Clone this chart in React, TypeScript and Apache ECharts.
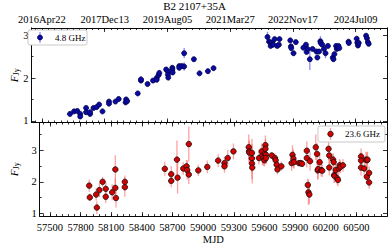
import React, { useEffect, useRef } from "react";
import * as echarts from "echarts";

// ---- data ----
const title = "B2 2107+35A";
const xMin = 57400;
const xMax = 60800;
const mjdTickValues = [57500, 57800, 58100, 58400, 58700, 59000, 59300, 59600, 59900, 60200, 60500];
const dateTickValues = [57500, 58100, 58700, 59300, 59900, 60500];
const dateTickLabels = ["2016Apr22", "2017Dec13", "2019Aug05", "2021Mar27", "2022Nov17", "2024Jul09"];
const yMajorTicks = [1, 2, 3];
const yMinorTicksTop = [1.5, 2.5];
const yMinorTicksBottom = [1.5, 2.5, 3.5];

const mjd48 = [
  57768, 57807, 57838, 57866, 57866, 57922, 57922, 57960, 57960, 57993, 58023, 58047, 58079, 58141, 58141,
  58203, 58234, 58300, 58305, 58315, 58416, 58447, 58447, 58510, 58562, 58597, 58597, 58616, 58622, 58688,
  58705, 58705, 58708, 58747, 58747, 58750, 58813, 58813, 58838, 58860, 58860, 58953, 59007, 59087, 59141,
  59657, 59672, 59687, 59687, 59703, 59712, 59725, 59750, 59766, 59772, 59875, 59881, 59884, 59906, 59928,
  60000, 60025, 60031, 60040, 60062, 60088, 60125, 60134, 60150, 60163, 60166, 60181, 60197, 60212, 60235,
  60282, 60288, 60297, 60313, 60320, 60328, 60336, 60344, 60432, 60435, 60510, 60516, 60522, 60530, 60600,
  60608, 60617, 60625,
];
const flux48 = [
  1.16, 1.22, 1.23, 1.16, 1.10, 1.30, 1.20, 1.16, 1.20, 1.30, 1.32, 1.38, 1.22, 1.45, 1.40,
  1.45, 1.51, 1.43, 1.50, 1.46, 1.64, 1.94, 1.97, 1.86, 1.94, 2.00, 1.96, 2.07, 2.12, 2.20,
  2.15, 2.08, 2.01, 2.24, 2.20, 2.13, 2.28, 2.24, 2.28, 2.58, 2.27, 2.44, 2.11, 2.16, 2.23,
  2.96, 2.85, 2.83, 2.75, 2.83, 2.78, 2.91, 2.75, 2.78, 2.91, 2.88, 2.74, 2.70, 2.58, 2.84,
  2.71, 2.78, 2.61, 2.68, 2.44, 2.68, 2.62, 2.48, 2.62, 2.86, 2.82, 2.78, 2.68, 2.58, 2.75,
  2.48, 2.44, 2.56, 2.75, 2.68, 2.72, 2.75, 2.70, 2.85, 2.82, 2.92, 2.83, 2.76, 2.82, 2.99,
  2.93, 2.84, 2.80,
];
const err48 = [
  0.02, 0.02, 0.02, 0.03, 0.03, 0.03, 0.03, 0.03, 0.02, 0.03, 0.03, 0.02, 0.03, 0.03, 0.03,
  0.02, 0.03, 0.03, 0.03, 0.03, 0.03, 0.03, 0.03, 0.02, 0.03, 0.03, 0.03, 0.03, 0.03, 0.03,
  0.04, 0.03, 0.03, 0.03, 0.03, 0.03, 0.03, 0.03, 0.03, 0.12, 0.10, 0.03, 0.04, 0.06, 0.03,
  0.12, 0.04, 0.04, 0.04, 0.04, 0.03, 0.04, 0.04, 0.04, 0.03, 0.05, 0.06, 0.06, 0.05, 0.03,
  0.04, 0.04, 0.06, 0.05, 0.25, 0.04, 0.04, 0.04, 0.05, 0.12, 0.05, 0.04, 0.05, 0.12, 0.04,
  0.03, 0.04, 0.04, 0.04, 0.04, 0.04, 0.04, 0.04, 0.06, 0.05, 0.05, 0.04, 0.04, 0.04, 0.03,
  0.04, 0.05, 0.04,
];

const mjd236 = [
  57885, 57891, 57953, 57960, 57985, 58016, 58047, 58047, 58110, 58141, 58141, 58147, 58234, 58234,
  58625, 58688, 58688, 58744, 58750, 58806, 58838, 58844, 58860, 58860, 58953, 59041, 59147, 59209,
  59209, 59241, 59297, 59447, 59450, 59453, 59478, 59478, 59478, 59481, 59547, 59573, 59580, 59590,
  59600, 59605, 59610, 59610, 59615, 59615, 59672, 59703, 59710, 59720, 59728, 59766, 59866, 59875,
  59884, 59890, 59938, 59955, 59969, 60015, 60015, 60025, 60031, 60040, 60047, 60103, 60115, 60122,
  60125, 60141, 60156, 60166, 60228, 60235, 60235, 60272, 60278, 60282, 60288, 60297, 60313, 60320,
  60328, 60336, 60344, 60369, 60546, 60546, 60546, 60578, 60594, 60603, 60609, 60603, 60625, 60625,
];
const flux236 = [
  1.88, 1.51, 1.60, 1.19, 1.74, 2.00, 1.78, 1.53, 1.67, 2.39, 1.81, 1.49, 2.00, 1.83,
  2.41, 2.24, 2.03, 2.70, 2.13, 2.42, 2.49, 2.37, 3.19, 2.23, 2.36, 2.47, 2.67, 2.59,
  2.49, 2.75, 2.96, 3.09, 2.96, 2.92, 2.91, 2.74, 2.58, 2.45, 2.75, 2.96, 2.83, 2.75,
  2.68, 2.88, 3.16, 3.04, 2.85, 2.75, 2.83, 2.75, 2.68, 2.54, 2.39, 2.49, 2.59, 2.85,
  2.73, 2.62, 2.59, 2.59, 2.57, 2.98, 2.75, 1.90, 1.67, 1.60, 2.65, 3.09, 2.88, 2.36,
  2.40, 2.62, 2.37, 2.35, 3.04, 2.83, 2.45, 2.70, 2.62, 2.21, 2.18, 2.37, 2.11, 2.06,
  2.42, 2.52, 2.47, 2.52, 2.80, 2.67, 2.45, 2.42, 2.70, 2.68, 2.70, 2.16, 2.28, 1.98,
];
const err236 = [
  0.19, 0.12, 0.20, 0.20, 0.22, 0.15, 0.22, 0.20, 0.25, 0.45, 0.30, 0.30, 0.20, 0.30,
  0.22, 0.25, 0.20, 0.60, 0.50, 0.20, 0.20, 0.30, 0.55, 0.30, 0.18, 0.20, 0.20, 0.20,
  0.20, 0.25, 0.25, 0.40, 0.35, 0.35, 0.45, 0.45, 0.50, 0.50, 0.20, 0.25, 0.30, 0.25,
  0.20, 0.20, 0.30, 0.30, 0.25, 0.20, 0.10, 0.15, 0.15, 0.15, 0.15, 0.15, 0.25, 0.30,
  0.30, 0.20, 0.10, 0.10, 0.10, 0.30, 0.30, 0.20, 0.40, 0.30, 0.30, 0.40, 0.35, 0.30,
  0.30, 0.30, 0.20, 0.20, 0.35, 0.30, 0.25, 0.20, 0.20, 0.25, 0.20, 0.20, 0.20, 0.20,
  0.20, 0.20, 0.20, 0.20, 0.25, 0.25, 0.25, 0.25, 0.25, 0.25, 0.25, 0.20, 0.20, 0.20,
];

const legendTop = "4.8 GHz";
const legendBottom = "23.6 GHz";

// ---- helpers ----
const FONT = "Liberation Serif";
const INK = "#000";
const TOP_MIN = 0.96;
const TOP_MAX = 3.17;
const BOT_MIN = 0.92;
const BOT_MAX = 3.87;

function stepValues(start: number, end: number, step: number) {
  const out: number[] = [];
  for (let v = start; v <= end + 1e-9; v += step) out.push(v);
  return out;
}
const minorX = stepValues(xMin + 40, xMax, 60);

function xAx(grid: number, position: string, ticks: number[], len: number, opts: any = {}) {
  return {
    type: "value",
    gridIndex: grid,
    position,
    min: xMin,
    max: xMax,
    splitLine: { show: false },
    axisLine: { show: opts.line !== false, onZero: false, lineStyle: { color: INK, width: 0.8 } },
    axisTick: { show: true, inside: true, length: len, customValues: ticks, lineStyle: { color: INK, width: 0.8 } },
    axisLabel: opts.label || { show: false },
    name: opts.name,
    nameLocation: "middle",
    nameGap: opts.nameGap,
    nameTextStyle: { fontFamily: FONT, fontSize: 10.5, color: INK },
  };
}

function yAx(grid: number, position: string, min: number, max: number, ticks: number[], len: number, opts: any = {}) {
  return {
    type: "value",
    gridIndex: grid,
    position,
    min,
    max,
    splitLine: { show: false },
    axisLine: { show: opts.line !== false, onZero: false, lineStyle: { color: INK, width: 0.8 } },
    axisTick: { show: true, inside: true, length: len, customValues: ticks, lineStyle: { color: INK, width: 0.8 } },
    axisLabel: opts.label || { show: false },
    name: opts.name,
    nameLocation: "middle",
    nameGap: opts.nameGap,
    nameRotate: 90,
    nameTextStyle: opts.nameTextStyle,
  };
}

function errSeries(x: number[], y: number[], e: number[], xi: number, yi: number, color: string) {
  return {
    type: "custom",
    xAxisIndex: xi,
    yAxisIndex: yi,
    silent: true,
    clip: true,
    z: 1,
    data: x.map((m, i) => [m, y[i] - e[i], y[i] + e[i]]),
    encode: { x: 0, y: [1, 2] },
    renderItem: (_p: any, api: any) => {
      const a = api.coord([api.value(0), api.value(1)]);
      const b = api.coord([api.value(0), api.value(2)]);
      return {
        type: "line",
        shape: { x1: a[0], y1: a[1], x2: b[0], y2: b[1] },
        style: { stroke: color, lineWidth: 1.3 },
      };
    },
  };
}

function ptSeries(x: number[], y: number[], xi: number, yi: number, fill: string, edge: string, size: number) {
  return {
    type: "scatter",
    xAxisIndex: xi,
    yAxisIndex: yi,
    z: 3,
    symbol: "circle",
    symbolSize: size,
    itemStyle: { color: fill, borderColor: edge, borderWidth: 0.8, opacity: 1 },
    data: x.map((m, i) => [m, y[i]]),
  };
}

// value labels of the upper panel, placed through the panel's own scales
function yTickLabelSeries(values: number[], xi: number, yi: number) {
  return {
    type: "custom",
    xAxisIndex: xi,
    yAxisIndex: yi,
    silent: true,
    clip: false,
    z: 5,
    data: values.map((v) => [xMin, v]),
    encode: { x: 0, y: 1 },
    renderItem: (_p: any, api: any) => {
      const p = api.coord([api.value(0), api.value(1)]);
      return {
        type: "text",
        x: p[0] - 3,
        y: p[1],
        style: {
          text: String(api.value(1)),
          fontFamily: FONT,
          fontSize: 10.5,
          fill: INK,
          align: "right",
          verticalAlign: "middle",
        },
      };
    },
  };
}

const nameStyle = () => ({
  fontFamily: FONT,
  color: INK,
  rich: {
    f: { fontFamily: FONT, fontStyle: "italic", fontSize: 11, color: INK },
    s: { fontFamily: FONT, fontSize: 8, color: INK, padding: [6, 0, 0, 0] },
  },
});

const tickLabel = { fontFamily: FONT, fontSize: 10.5, color: INK, showMinLabel: true, showMaxLabel: true, hideOverlap: false };

export default function App() {
  const ref = useRef<HTMLDivElement>(null);
  useEffect(() => {
    if (!ref.current) return;
    const chart = echarts.init(ref.current, null, { renderer: "svg" });
    const gTop = { left: 24, right: 2, top: 28, height: 94.5 };
    const gBot = { left: 24, right: 2, top: 122.5, bottom: 29 };
    const option: any = {
      animation: false,
      backgroundColor: "#fff",
      title: {
        text: title,
        left: "center",
        top: 0,
        padding: 0,
        textStyle: { fontFamily: FONT, fontSize: 11, fontWeight: "normal", color: INK },
      },
      grid: [gTop, gBot],
      xAxis: [
        xAx(0, "top", dateTickValues, 4, {
          label: {
            show: true,
            customValues: dateTickValues,
            margin: 3,
            ...tickLabel,
            formatter: (v: number) => dateTickLabels[dateTickValues.indexOf(v)] ?? "",
          },
        }),
        xAx(0, "bottom", dateTickValues, 4),
        xAx(0, "top", minorX, 2),
        xAx(0, "bottom", minorX, 2),
        xAx(1, "bottom", mjdTickValues, 4, {
          label: {
            show: true,
            customValues: mjdTickValues,
            margin: 6,
            ...tickLabel,
            formatter: (v: number) => String(v),
          },
          name: "MJD",
          nameGap: 13,
        }),
        xAx(1, "top", mjdTickValues, 4),
        xAx(1, "bottom", minorX, 2),
        xAx(1, "top", minorX, 2),
      ],
      yAxis: [
        yAx(0, "right", TOP_MIN, TOP_MAX, yMajorTicks, 4),
        yAx(0, "left", TOP_MIN, TOP_MAX, yMajorTicks, 4, {
          name: "{f|F}{s|Jy}",
          nameGap: 11,
          nameTextStyle: nameStyle(),
        }),
        yAx(0, "left", TOP_MIN, TOP_MAX, yMinorTicksTop, 2),
        yAx(0, "right", TOP_MIN, TOP_MAX, yMinorTicksTop, 2),
        yAx(1, "left", BOT_MIN, BOT_MAX, yMajorTicks, 4, {
          label: {
            show: true,
            customValues: yMajorTicks,
            margin: 3,
            ...tickLabel,
            formatter: (v: number) => String(v),
          },
          name: "{f|F}{s|Jy}",
          nameGap: 11,
          nameTextStyle: nameStyle(),
        }),
        yAx(1, "right", BOT_MIN, BOT_MAX, yMajorTicks, 4),
        yAx(1, "left", BOT_MIN, BOT_MAX, yMinorTicksBottom, 2),
        yAx(1, "right", BOT_MIN, BOT_MAX, yMinorTicksBottom, 2),
      ],
      series: [
        errSeries(mjd48, flux48, err48, 1, 1, "rgba(90,90,255,0.7)"),
        ptSeries(mjd48, flux48, 1, 1, "#0a0aa0", "#000050", 5),
        errSeries(mjd236, flux236, err236, 4, 4, "rgba(255,100,100,0.6)"),
        ptSeries(mjd236, flux236, 4, 4, "#d40000", "#111", 5.5),
        yTickLabelSeries(yMajorTicks, 1, 1),
      ],
      graphic: [
        {
          type: "rect",
          shape: { x: 28, y: 30, width: 59, height: 15, r: 2 },
          style: { fill: "#fff", stroke: "#bbb", lineWidth: 0.8 },
          z: 10,
        },
        {
          type: "line",
          shape: { x1: 40, y1: 32, x2: 40, y2: 43 },
          style: { stroke: "rgba(90,90,255,0.7)", lineWidth: 1.3 },
          z: 11,
        },
        {
          type: "circle",
          shape: { cx: 40, cy: 37.5, r: 2.5 },
          style: { fill: "#0a0aa0", stroke: "#000050", lineWidth: 0.8 },
          z: 12,
        },
        {
          type: "text",
          x: 55,
          y: 37.5,
          style: { text: legendTop, fontFamily: FONT, fontSize: 9, fill: INK, verticalAlign: "middle" },
          z: 12,
        },
        {
          type: "rect",
          shape: { x: 318, y: 126, width: 67, height: 16, r: 2 },
          style: { fill: "#fff", stroke: "#bbb", lineWidth: 0.8 },
          z: 10,
        },
        {
          type: "line",
          shape: { x1: 330.5, y1: 128, x2: 330.5, y2: 140 },
          style: { stroke: "rgba(255,100,100,0.6)", lineWidth: 1.3 },
          z: 11,
        },
        {
          type: "circle",
          shape: { cx: 330.5, cy: 134, r: 2.75 },
          style: { fill: "#d40000", stroke: "#111", lineWidth: 0.8 },
          z: 12,
        },
        {
          type: "text",
          x: 345,
          y: 134,
          style: { text: legendBottom, fontFamily: FONT, fontSize: 9, fill: INK, verticalAlign: "middle" },
          z: 12,
        },
      ],
    };
    chart.setOption(option);
    return () => chart.dispose();
  }, []);
  return (
    <div
      ref={ref}
      style={{ position: "fixed", left: 0, top: 0, width: 389, height: 246, background: "#fff" }}
    />
  );
}
